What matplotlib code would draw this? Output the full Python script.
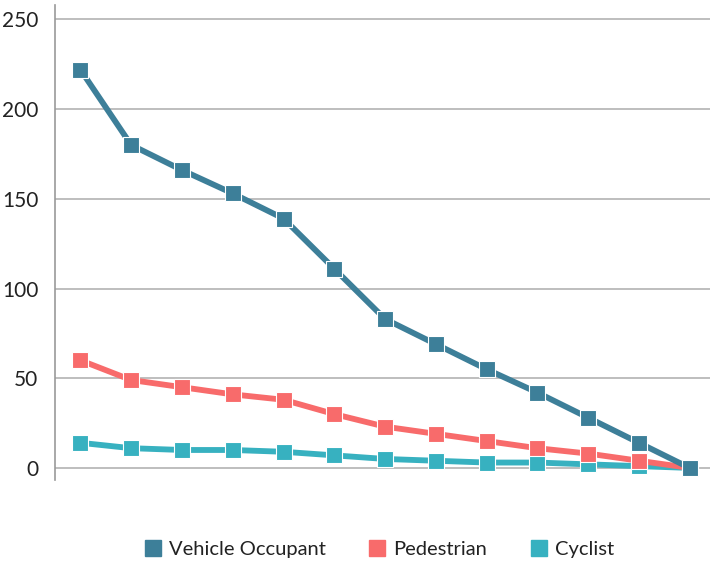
import matplotlib.pyplot as plt
from matplotlib.lines import Line2D

plt.rcParams['font.family'] = ['Lato', 'DejaVu Sans']

vehicle = [222, 180, 166, 153, 139, 111, 83, 69, 55, 42, 28, 14, 0]
pedestrian = [60, 49, 45, 41, 38, 30, 23, 19, 15, 11, 8, 4, 0]
cyclist = [14, 11, 10, 10, 9, 7, 5, 4, 3, 3, 2, 1, 0]
names = ['Vehicle Occupant', 'Pedestrian', 'Cyclist']
colors = ['#3d7f99', '#f86b6b', '#37b1c0']

fig = plt.figure(figsize=(7.1, 5.62), dpi=100)
ax = fig.add_axes([0.0775, 0.146, 0.9225, 0.845])

x = list(range(len(vehicle)))
for series, c in zip([cyclist, pedestrian, vehicle], colors[::-1]):
    ax.plot(x, series, color=c, lw=4.2, marker='s', ms=11.5,
            mec='white', mew=0.8, solid_capstyle='butt', zorder=3)

ax.set_xlim(-0.5, 12.4)
ax.set_ylim(-6.7, 258)
ax.set_yticks([0, 50, 100, 150, 200, 250])
ax.set_xticks([])
ax.grid(axis='y', color='#b3b3b3', lw=1.2)
for s in ['top', 'right', 'bottom']:
    ax.spines[s].set_visible(False)
ax.spines['left'].set_color('#999999')
ax.spines['left'].set_linewidth(1.2)
ax.tick_params(axis='y', length=0, pad=12, labelsize=15, labelcolor='#222222')

handles = [Line2D([], [], ls='none', marker='s', ms=12, color=c) for c in colors]
fig.legend(handles, names, loc='center', bbox_to_anchor=(0.533, 0.023),
           ncol=3, frameon=False, fontsize=14.5, handletextpad=0.3,
           columnspacing=2.05, handlelength=1.0, labelcolor='#222222')

fig.savefig('out.png', dpi=100)
